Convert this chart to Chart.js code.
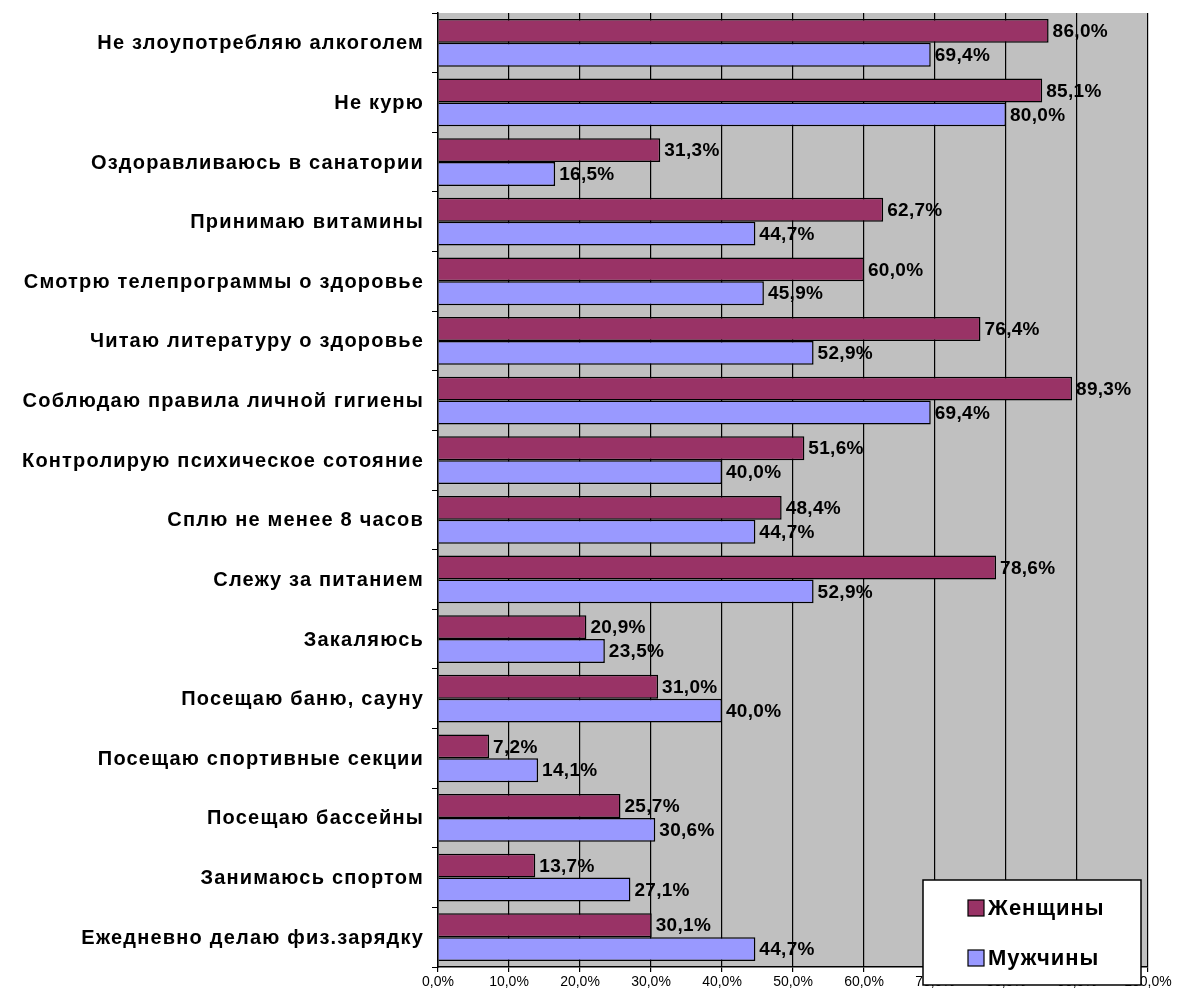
<!DOCTYPE html>
<html>
<head>
<meta charset="utf-8">
<script src="https://cdn.jsdelivr.net/npm/chart.js@4"></script>
<style>
  body { margin: 0; background: #fff; }
  #wrap { width: 1178px; height: 998px; }
</style>
</head>
<body>
<div id="wrap"><canvas id="chart"></canvas></div>
<script>
const categories = [
  "Не злоупотребляю алкоголем",
  "Не курю",
  "Оздоравливаюсь в санатории",
  "Принимаю витамины",
  "Смотрю телепрограммы о здоровье",
  "Читаю литературу о здоровье",
  "Соблюдаю правила личной гигиены",
  "Контролирую психическое сотояние",
  "Сплю не менее 8 часов",
  "Слежу за питанием",
  "Закаляюсь",
  "Посещаю баню, сауну",
  "Посещаю спортивные секции",
  "Посещаю бассейны",
  "Занимаюсь спортом",
  "Ежедневно делаю физ.зарядку"
];
const women = [86.0, 85.1, 31.3, 62.7, 60.0, 76.4, 89.3, 51.6, 48.4, 78.6, 20.9, 31.0, 7.2, 25.7, 13.7, 30.1];
const men = [69.4, 80.0, 16.5, 44.7, 45.9, 52.9, 69.4, 40.0, 44.7, 52.9, 23.5, 40.0, 14.1, 30.6, 27.1, 44.7];
const seriesNames = ["Женщины", "Мужчины"];

const FONT = "'Liberation Sans', Arial, sans-serif";
const fmt = v => v.toFixed(1).replace(".", ",") + "%";

// серый фон области построения
const plotBg = {
  id: "plotBg",
  beforeDraw(chart) {
    const a = chart.chartArea, ctx = chart.ctx;
    ctx.save();
    ctx.fillStyle = "#c0c0c0";
    ctx.fillRect(a.left, a.top, a.right - a.left, a.bottom - a.top);
    ctx.restore();
  }
};

// подписи категорий (разреженный шрифт, как в оригинале)
const catLabels = {
  id: "catLabels",
  afterDraw(chart) {
    const ctx = chart.ctx, y = chart.scales.y;
    ctx.save();
    ctx.font = "bold 20px " + FONT;
    ctx.letterSpacing = "1.2px";
    ctx.fillStyle = "#000";
    ctx.textAlign = "right";
    ctx.textBaseline = "middle";
    chart.data.labels.forEach((lab, i) => {
      ctx.fillText(lab, y.left + y.width - 14, y.getPixelForValue(i) + 1);
    });
    ctx.restore();
  }
};

// подписи значений справа от столбцов
const valueLabels = {
  id: "valueLabels",
  afterDatasetsDraw(chart) {
    const ctx = chart.ctx;
    ctx.save();
    ctx.font = "bold 19px " + FONT;
    ctx.letterSpacing = "0.3px";
    ctx.fillStyle = "#000";
    ctx.textAlign = "left";
    ctx.textBaseline = "middle";
    chart.data.datasets.forEach((ds, i) => {
      chart.getDatasetMeta(i).data.forEach((bar, j) => {
        ctx.fillText(fmt(ds.data[j]), bar.x + 4, bar.y + 1);
      });
    });
    ctx.restore();
  }
};

// легенда в рамке в правом нижнем углу
const boxLegend = {
  id: "boxLegend",
  afterDraw(chart) {
    const ctx = chart.ctx;
    const x = 923, y = 880, w = 218, h = 105;
    ctx.save();
    ctx.fillStyle = "#fff";
    ctx.fillRect(x, y, w, h);
    ctx.strokeStyle = "#000";
    ctx.lineWidth = 1.5;
    ctx.strokeRect(x, y, w, h);
    ctx.font = "bold 22px " + FONT;
    ctx.letterSpacing = "1px";
    ctx.textBaseline = "middle";
    chart.data.datasets.forEach((ds, i) => {
      const cy = y + 28 + i * 50;
      ctx.fillStyle = ds.backgroundColor;
      ctx.fillRect(x + 45, cy - 8, 16, 16);
      ctx.lineWidth = 1.2;
      ctx.strokeRect(x + 45, cy - 8, 16, 16);
      ctx.fillStyle = "#000";
      ctx.fillText(ds.label, x + 65, cy + 1);
    });
    ctx.restore();
  }
};

new Chart(document.getElementById("chart"), {
  type: "bar",
  data: {
    labels: categories,
    datasets: [
      { label: seriesNames[0], data: women, backgroundColor: "#993366", borderColor: "#000", borderWidth: 1.5 },
      { label: seriesNames[1], data: men, backgroundColor: "#9999ff", borderColor: "#000", borderWidth: 1.5 }
    ]
  },
  options: {
    indexAxis: "y",
    responsive: true,
    maintainAspectRatio: false,
    animation: false,
    layout: { padding: { top: 13, right: 30, bottom: 8, left: 0 } },
    datasets: { bar: { categoryPercentage: 0.8, barPercentage: 1.0 } },
    plugins: {
      legend: { display: false },
      tooltip: { enabled: false }
    },
    scales: {
      x: {
        min: 0,
        max: 100,
        afterFit(s) { s.height = 23; },
        border: { color: "#000", width: 1.5 },
        grid: { color: "#000", lineWidth: 1.2, tickLength: 5 },
        ticks: {
          stepSize: 10,
          maxRotation: 0,
          padding: 2,
          color: "#000",
          font: { family: FONT, size: 14 },
          callback: v => fmt(v)
        }
      },
      y: {
        afterFit(s) { s.width = 438; },
        border: { color: "#000", width: 1.5 },
        grid: { drawOnChartArea: false, color: "#000", tickLength: 6, offset: true },
        ticks: { display: false, autoSkip: false }
      }
    }
  },
  plugins: [plotBg, valueLabels, catLabels, boxLegend]
});
</script>
</body>
</html>
